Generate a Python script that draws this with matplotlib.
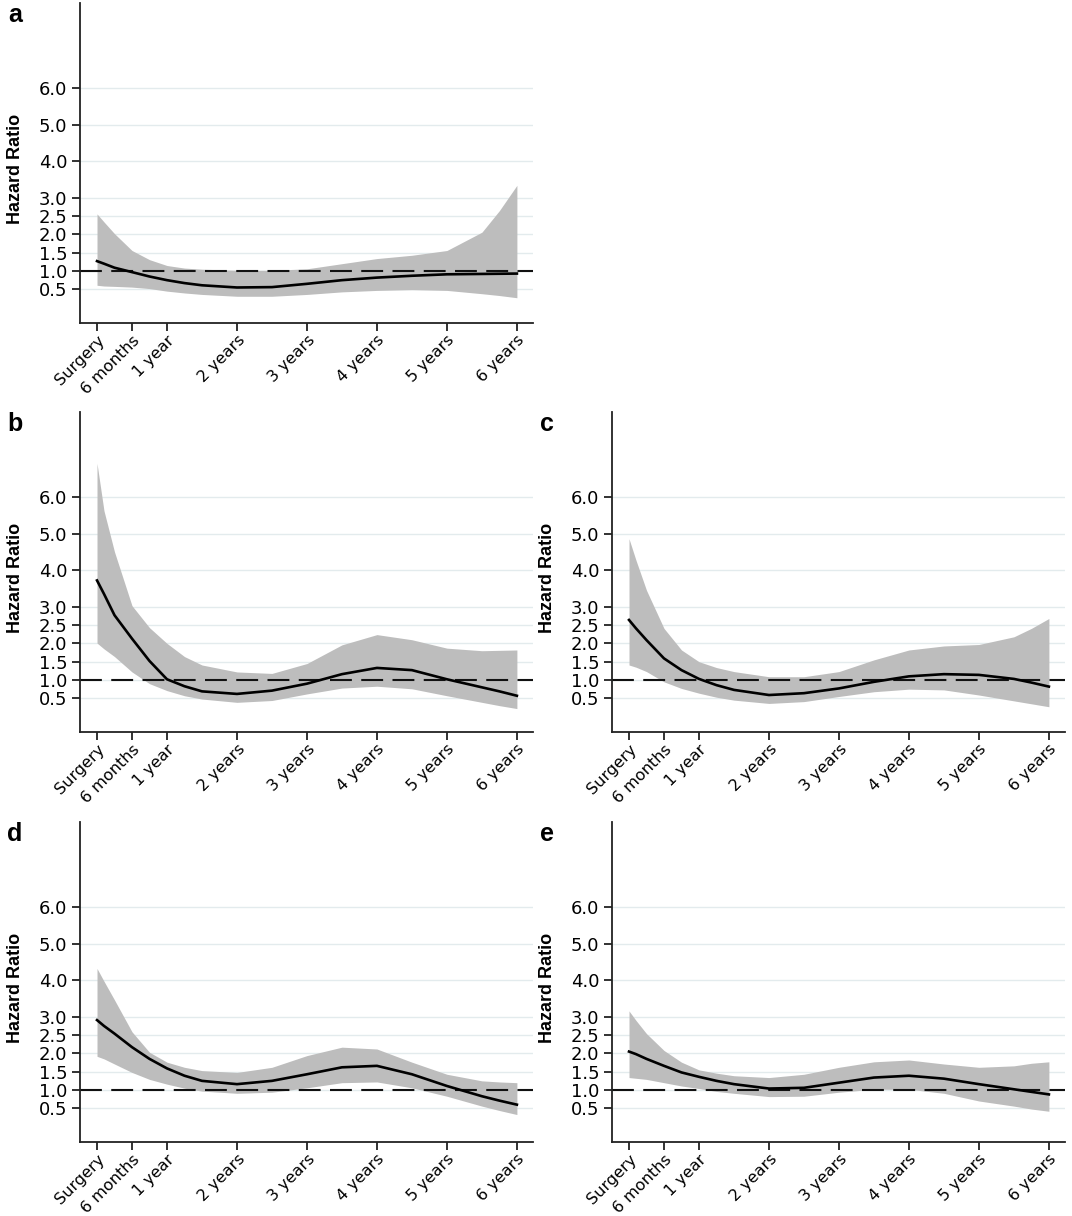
import matplotlib
matplotlib.use("Agg")
import matplotlib.pyplot as plt

# time since surgery (years) at which values were read
t = [0, 0.1, 0.25, 0.5, 0.75, 1, 1.25, 1.5, 2, 2.5, 3, 3.5, 4, 4.5, 5, 5.5, 5.75, 6]

# panel a
a_hr = [1.27, 1.2, 1.09, 0.97, 0.85, 0.75, 0.67, 0.61, 0.55, 0.56, 0.65, 0.75, 0.82, 0.87, 0.91, 0.92, 0.925, 0.93]
a_lo = [0.61, 0.59, 0.58, 0.56, 0.52, 0.45, 0.4, 0.36, 0.31, 0.31, 0.36, 0.43, 0.47, 0.49, 0.47, 0.38, 0.33, 0.27]
a_hi = [2.56, 2.34, 2.02, 1.56, 1.31, 1.15, 1.08, 1.05, 1.02, 1.02, 1.06, 1.2, 1.34, 1.43, 1.56, 2.06, 2.65, 3.34]

# panel b
b_hr = [3.72, 3.35, 2.77, 2.13, 1.52, 1.02, 0.83, 0.69, 0.62, 0.71, 0.9, 1.16, 1.33, 1.27, 1.02, 0.8, 0.69, 0.57]
b_lo = [2.01, 1.85, 1.64, 1.22, 0.9, 0.71, 0.57, 0.48, 0.39, 0.44, 0.62, 0.78, 0.83, 0.76, 0.57, 0.39, 0.3, 0.22]
b_hi = [6.92, 5.62, 4.5, 3.03, 2.43, 2.0, 1.64, 1.41, 1.22, 1.18, 1.45, 1.96, 2.24, 2.1, 1.87, 1.8, 1.81, 1.82]

# panel c
c_hr = [2.64, 2.41, 2.09, 1.59, 1.27, 1.03, 0.86, 0.73, 0.59, 0.64, 0.77, 0.95, 1.1, 1.16, 1.14, 1.03, 0.93, 0.82]
c_lo = [1.41, 1.35, 1.23, 0.95, 0.77, 0.64, 0.53, 0.45, 0.36, 0.41, 0.55, 0.68, 0.75, 0.73, 0.59, 0.43, 0.35, 0.27]
c_hi = [4.86, 4.27, 3.45, 2.41, 1.82, 1.5, 1.34, 1.23, 1.09, 1.09, 1.23, 1.55, 1.82, 1.93, 1.97, 2.18, 2.41, 2.68]

# panel d
d_hr = [2.91, 2.75, 2.54, 2.17, 1.85, 1.59, 1.39, 1.25, 1.16, 1.25, 1.43, 1.62, 1.66, 1.43, 1.11, 0.83, 0.71, 0.6]
d_lo = [1.92, 1.85, 1.71, 1.48, 1.29, 1.16, 1.05, 0.97, 0.91, 0.94, 1.06, 1.2, 1.22, 1.06, 0.83, 0.56, 0.44, 0.33]
d_hi = [4.32, 3.97, 3.46, 2.59, 2.03, 1.76, 1.62, 1.53, 1.48, 1.62, 1.94, 2.17, 2.12, 1.76, 1.43, 1.25, 1.22, 1.2]

# panel e
e_hr = [2.05, 1.98, 1.85, 1.66, 1.48, 1.36, 1.25, 1.16, 1.04, 1.06, 1.2, 1.34, 1.39, 1.31, 1.16, 1.02, 0.95, 0.88]
e_lo = [1.34, 1.32, 1.29, 1.2, 1.11, 1.04, 0.96, 0.91, 0.82, 0.83, 0.94, 1.02, 1.02, 0.91, 0.7, 0.56, 0.48, 0.42]
e_hi = [3.16, 2.9, 2.54, 2.08, 1.76, 1.55, 1.46, 1.39, 1.34, 1.43, 1.62, 1.77, 1.82, 1.71, 1.62, 1.66, 1.73, 1.77]

x_ticks = [0, 0.5, 1, 2, 3, 4, 5, 6]
x_labels = ['Surgery', '6 months', '1 year', '2 years', '3 years', '4 years', '5 years', '6 years']
y_ticks = [0.5, 1.0, 1.5, 2.0, 2.5, 3.0, 4.0, 5.0, 6.0]

panels = {
    'a': (a_hr, a_lo, a_hi),
    'b': (b_hr, b_lo, b_hi),
    'c': (c_hr, c_lo, c_hi),
    'd': (d_hr, d_lo, d_hi),
    'e': (e_hr, e_lo, e_hi),
}

# axes positions in figure fractions [left, bottom, width, height]
W, H = 1072, 1216
def box(left, top):
    return [left / W, 1 - (top + 320) / H, 453 / W, 320 / H]

positions = {'a': box(80, 3), 'b': box(80, 412), 'c': box(612, 412),
             'd': box(80, 822), 'e': box(612, 822)}

fig = plt.figure(figsize=(10.72, 12.16), dpi=100)

for key, (hr, lo, hi) in panels.items():
    ax = fig.add_axes(positions[key])
    ax.fill_between(t, lo, hi, color='#bdbdbd', linewidth=0, zorder=1)
    ax.axhline(1.0, color='#111111', lw=1.5, dashes=(10.5, 4.5), zorder=2)
    ax.plot(t, hr, color='black', lw=1.9, zorder=3)

    ax.set_xlim(-0.243, 6.23)
    ax.set_ylim(-0.42, 8.32)
    ax.set_yticks(y_ticks)
    ax.set_yticklabels([f'{v:.1f}' for v in y_ticks], family='DejaVu Sans', fontsize=13)
    ax.set_xticks(x_ticks)
    ax.set_xticklabels(x_labels, rotation=45, ha='right', va='top',
                       rotation_mode='anchor', family='DejaVu Sans', fontsize=11.5)
    ax.grid(axis='y', color='#e3ebed', lw=1.0, zorder=0)
    ax.set_axisbelow(True)
    for s in ['top', 'right']:
        ax.spines[s].set_visible(False)
    for s in ['left', 'bottom']:
        ax.spines[s].set_color('#222222')
        ax.spines[s].set_linewidth(1.3)
    ax.tick_params(axis='y', direction='out', length=6, width=1.3,
                   color='#222222', pad=3)
    ax.tick_params(axis='x', direction='out', length=6, width=1.3,
                   color='#222222', pad=1)
    ax.text(-0.143, 0.48, 'Hazard Ratio', transform=ax.transAxes, rotation=90,
            ha='center', va='center', family='Liberation Sans',
            fontweight='bold', fontsize=13)

    pos = positions[key]
    fig.text(pos[0] - 65 / W, pos[1] + pos[3] - 12 / H, key, family='Liberation Sans',
             fontweight='bold', fontsize=18, ha='center', va='center')

fig.savefig('out.png', dpi=100)
